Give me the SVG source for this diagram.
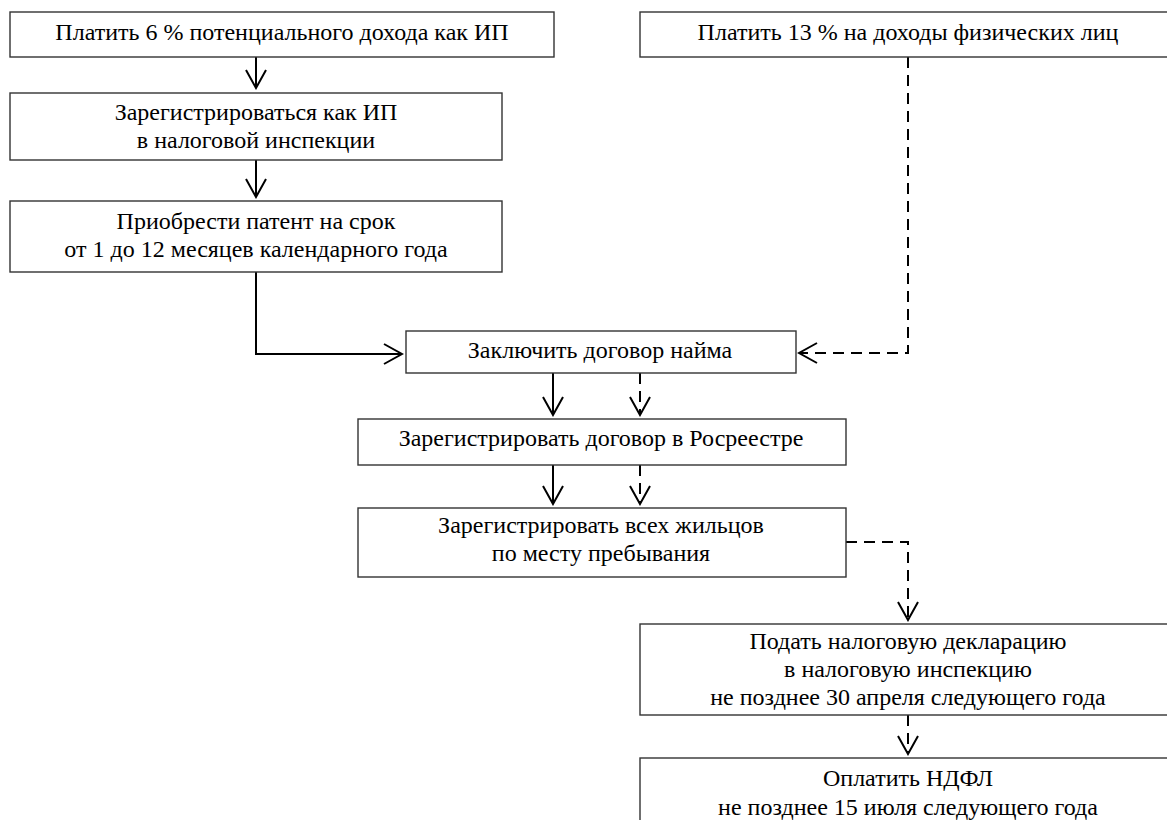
<svg xmlns="http://www.w3.org/2000/svg" width="1167" height="820" viewBox="0 0 1167 820">
  <style>
    .box { fill: #fff; stroke: #333; stroke-width: 1.4; }
    .lbl { font-family: "Liberation Serif", "Times New Roman", serif; font-size: 24px; fill: #000; text-anchor: middle; }
    .solid { fill: none; stroke: #000; stroke-width: 2; marker-end: url(#head); }
    .dash { fill: none; stroke: #000; stroke-width: 2; stroke-dasharray: 11 7; marker-end: url(#head); }
  </style>
  <defs>
    <!-- open V arrowhead -->
    <marker id="head" viewBox="-20 -12 22 24" refX="0" refY="0" markerWidth="22" markerHeight="24" markerUnits="userSpaceOnUse" orient="auto">
      <path d="M-18,-10 L0,0 L-18,10" fill="none" stroke="#000" stroke-width="2" stroke-dasharray="none"/>
    </marker>
  </defs>
  <rect width="1167" height="820" fill="#fff"/>

  <g id="connectors">
    <!-- patent (ИП) branch -->
    <path class="solid" d="M256,57 V88"/>
    <path class="solid" d="M256,160 V197"/>
    <path class="solid" d="M256,272 V354 H402"/>
    <path class="solid" d="M553,373 V415"/>
    <path class="solid" d="M553,465 V504"/>
    <!-- НДФЛ branch -->
    <path class="dash" d="M908,57 V353 H799"/>
    <path class="dash" d="M640,373 V415"/>
    <path class="dash" d="M640,465 V504"/>
    <path class="dash" d="M846,542 H908 V620"/>
    <path class="dash" d="M908,715 V754"/>
  </g>

  <g id="n-ip6">
    <rect class="box" x="10" y="12" width="544" height="45"/>
    <text class="lbl" x="282" y="40">Платить 6 % потенциального дохода как ИП</text>
  </g>
  <g id="n-ndfl13">
    <rect class="box" x="640" y="12" width="540" height="45"/>
    <text class="lbl" x="908" y="40">Платить 13 % на доходы физических лиц</text>
  </g>
  <g id="n-register-ip">
    <rect class="box" x="10" y="93" width="492" height="67"/>
    <text class="lbl" x="256" y="120">Зарегистрироваться как ИП</text>
    <text class="lbl" x="256" y="148">в налоговой инспекции</text>
  </g>
  <g id="n-patent">
    <rect class="box" x="10" y="201" width="492" height="71"/>
    <text class="lbl" x="256" y="229">Приобрести патент на срок</text>
    <text class="lbl" x="256" y="257">от 1 до 12 месяцев календарного года</text>
  </g>
  <g id="n-contract">
    <rect class="box" x="406" y="331" width="390" height="42"/>
    <text class="lbl" x="600" y="358">Заключить договор найма</text>
  </g>
  <g id="n-rosreestr">
    <rect class="box" x="358" y="419" width="488" height="46"/>
    <text class="lbl" x="601" y="446">Зарегистрировать договор в Росреестре</text>
  </g>
  <g id="n-residents">
    <rect class="box" x="358" y="508" width="488" height="69"/>
    <text class="lbl" x="601" y="533">Зарегистрировать всех жильцов</text>
    <text class="lbl" x="601" y="561">по месту пребывания</text>
  </g>
  <g id="n-declaration">
    <rect class="box" x="640" y="624" width="540" height="91"/>
    <text class="lbl" x="908" y="649">Подать налоговую декларацию</text>
    <text class="lbl" x="908" y="677">в налоговую инспекцию</text>
    <text class="lbl" x="908" y="705">не позднее 30 апреля следующего года</text>
  </g>
  <g id="n-pay">
    <rect class="box" x="640" y="758" width="540" height="80"/>
    <text class="lbl" x="908" y="786">Оплатить НДФЛ</text>
    <text class="lbl" x="908" y="815">не позднее 15 июля следующего года</text>
  </g>
</svg>
